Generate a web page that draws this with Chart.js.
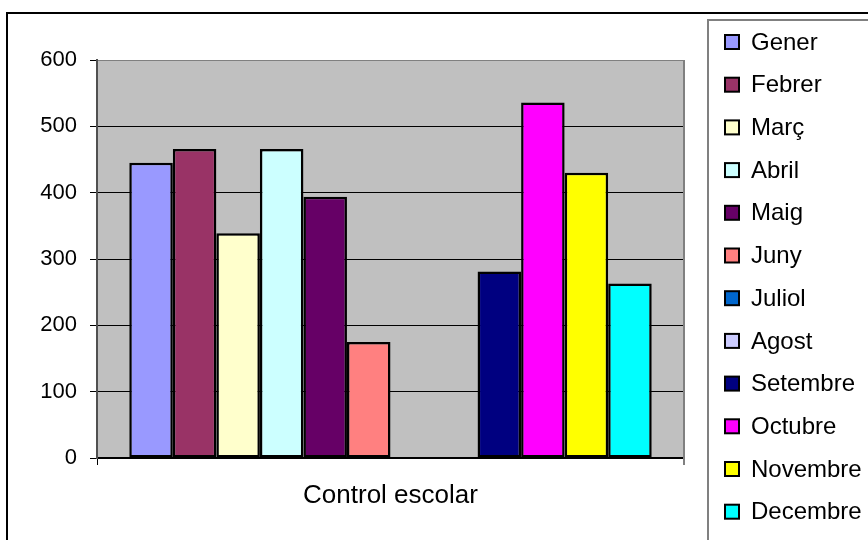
<!DOCTYPE html>
<html>
<head>
<meta charset="utf-8">
<script src="https://cdn.jsdelivr.net/npm/chart.js@4/dist/chart.umd.min.js"></script>
<style>
html,body{margin:0;padding:0;background:#fff;}
canvas{display:block;}
</style>
</head>
<body>
<canvas id="c" width="868" height="540"></canvas>
<script>
const categories = ['Control escolar'];
const months = ['Gener','Febrer','Març','Abril','Maig','Juny','Juliol','Agost','Setembre','Octubre','Novembre','Decembre'];
const values = [445, 466, 339, 466, 394, 175, null, null, 281, 536, 430, 263];
const colors = ['#9999FF','#993366','#FFFFCC','#CCFFFF','#660066','#FF8080','#0066CC','#CCCCFF','#000080','#FF00FF','#FFFF00','#00FFFF'];
const yTicks = [0, 100, 200, 300, 400, 500, 600];

const FONT = '"Liberation Sans", Arial, sans-serif';

const datasets = months.map((m, i) => ({
  label: m,
  data: [values[i]],
  backgroundColor: colors[i],
  borderColor: '#000',
  borderWidth: 2.5,
  borderSkipped: false
}));

const decor = {
  id: 'decor',
  beforeDraw(chart) {
    const ctx = chart.ctx, a = chart.chartArea;
    ctx.save();
    ctx.fillStyle = '#fff';
    ctx.fillRect(0, 0, chart.width, chart.height);
    ctx.strokeStyle = '#000';
    ctx.lineWidth = 2;
    ctx.strokeRect(7, 13, chart.width + 20, chart.height + 20);
    ctx.fillStyle = '#C0C0C0';
    ctx.fillRect(a.left, a.top, a.right - a.left, a.bottom - a.top);
    ctx.restore();
  },
  afterDraw(chart) {
    const ctx = chart.ctx, a = chart.chartArea;
    ctx.save();
    ctx.strokeStyle = '#808080';
    ctx.lineWidth = 2;
    ctx.beginPath();
    ctx.moveTo(a.right, a.top);
    ctx.lineTo(a.right, a.bottom + 7);
    ctx.stroke();
    ctx.strokeStyle = '#808080';
    ctx.lineWidth = 2;
    ctx.strokeRect(708, 20, 200, 560);
    const ds = chart.data.datasets;
    ctx.font = '24px ' + FONT;
    ctx.textBaseline = 'middle';
    ctx.textAlign = 'left';
    ds.forEach((d, i) => {
      const cy = 42 + i * 42.7;
      ctx.fillStyle = d.backgroundColor;
      ctx.fillRect(725, cy - 7, 14, 14);
      ctx.strokeStyle = '#000';
      ctx.lineWidth = 2;
      ctx.strokeRect(725, cy - 7, 14, 14);
      ctx.fillStyle = '#000';
      ctx.fillText(d.label, 751, cy + 1);
    });
    ctx.restore();
  }
};

new Chart(document.getElementById('c'), {
  type: 'bar',
  data: { labels: categories, datasets },
  options: {
    responsive: false,
    animation: false,
    devicePixelRatio: 1,
    layout: { padding: { left: 0, top: 60, right: 184, bottom: 0 } },
    plugins: { legend: { display: false }, tooltip: { enabled: false } },
    datasets: { bar: { categoryPercentage: 0.89, barPercentage: 1 } },
    scales: {
      x: {
        afterFit(s) { s.height = 82; },
        offset: true,
        grid: { offset: true, drawOnChartArea: false, drawTicks: true, tickLength: 7, color: '#000', lineWidth: 1 },
        border: { display: true, color: '#000', width: 2 },
        ticks: { color: '#000', font: { family: FONT, size: 26 }, padding: 15 }
      },
      y: {
        min: 0, max: 600,
        afterFit(s) { s.width = 97; },
        afterBuildTicks(s) { s.ticks = yTicks.map(v => ({ value: v })); },
        grid: {
          color: c => (c.tick && c.tick.value === 600 ? '#808080' : '#000'),
          tickColor: '#000',
          lineWidth: 1,
          tickLength: 7,
          drawTicks: true
        },
        border: { display: true, color: '#505050', width: 2 },
        ticks: { color: '#000', font: { family: FONT, size: 22 }, padding: 13, stepSize: 100 }
      }
    }
  },
  plugins: [decor]
});
</script>
</body>
</html>
